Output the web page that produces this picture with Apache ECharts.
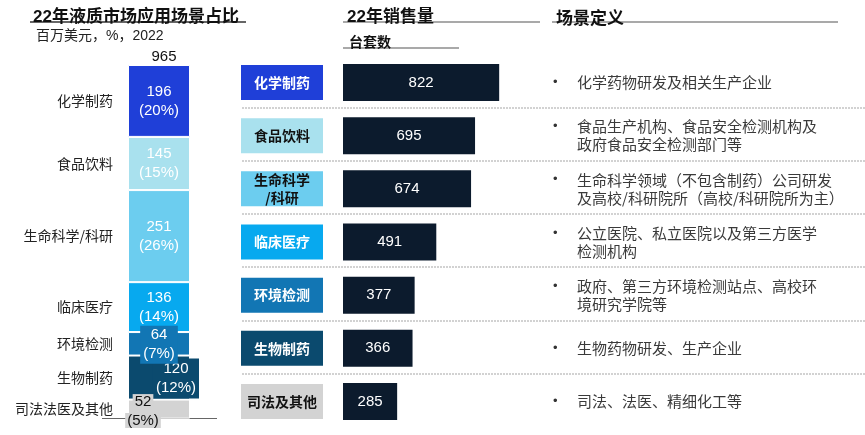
<!DOCTYPE html>
<html><head><meta charset="utf-8">
<script src="https://cdn.jsdelivr.net/npm/echarts@6/dist/echarts.min.js"></script>
<style>html,body{margin:0;padding:0;background:#fff}#c{width:865px;height:435px}</style>
</head><body><div id="c"></div>
<script>
const categories = ['化学制药','食品饮料','生命科学/科研','临床医疗','环境检测','生物制药','司法法医及其他'];
const marketValues = [196,145,251,136,64,120,52];
const marketPct = ['20%','15%','26%','14%','7%','12%','5%'];
const marketTotal = 965;
const boxNames = ['化学制药','食品饮料','生命科学\n/科研','临床医疗','环境检测','生物制药','司法及其他'];
const salesValues = [822,695,674,491,377,366,285];
const definitions = [
  ['化学药物研发及相关生产企业'],
  ['食品生产机构、食品安全检测机构及','政府食品安全检测部门等'],
  ['生命科学领域（不包含制药）公司研发','及高校/科研院所（高校/科研院所为主）'],
  ['公立医院、私立医院以及第三方医学','检测机构'],
  ['政府、第三方环境检测站点、高校环','境研究学院等'],
  ['生物药物研发、生产企业'],
  ['司法、法医、精细化工等']
];

const segColors = ['#1f3fd8','#a9e1ee','#6ccdef','#07a9ef','#1276b4','#0b4a6e','#d3d3d3'];
const boxText = ['#fff','#111','#111','#fff','#fff','#fff','#111'];
const segZ = [2, 2, 2, 2, 20, 10, 15];
const CJK = '"Noto Sans CJK SC"';
const NUM = '"Liberation Sans", Arial, "Noto Sans CJK SC"';

const chart = echarts.init(document.getElementById('c'));

const series = [];
categories.forEach((name, i) => {
  let lbl = {
    show: true, position: 'inside', color: i === 6 ? '#111' : '#fff',
    fontFamily: NUM, fontSize: 15, lineHeight: 19,
    formatter: () => marketValues[i] + '\n(' + marketPct[i] + ')'
  };
  if (i === 4) { lbl.backgroundColor = segColors[4]; lbl.padding = [0, 3]; lbl.offset = [0, 1]; }
  if (i === 5) { lbl.backgroundColor = segColors[5]; lbl.padding = [1, 3]; lbl.offset = [17, 1]; }
  if (i === 6) {
    lbl.formatter = () => '{a|' + marketValues[i] + '}\n{a|(' + marketPct[i] + ')}';
    lbl.rich = { a: { backgroundColor: segColors[6], padding: [0, 2], fontFamily: NUM, fontSize: 15, lineHeight: 19, color: '#111' } };
    lbl.offset = [-16, 2];
  }
  series.push({
    type: 'bar', name: name, stack: 'm', xAxisIndex: 0, yAxisIndex: 0, barWidth: 62,
    data: [marketValues[i]],
    itemStyle: { color: segColors[i], borderColor: '#fff', borderWidth: 1 },
    label: lbl, z: segZ[i]
  });
});
categories.forEach((name, i) => {
  series.push({
    type: 'bar', name: name + '_n', stack: 'n', xAxisIndex: 1, yAxisIndex: 0, barWidth: 62,
    data: [marketValues[i]],
    itemStyle: { color: 'rgba(0,0,0,0)' },
    label: { show: true, position: 'left', distance: 15, color: '#222', fontFamily: CJK, fontSize: 14,
      formatter: () => name },
    silent: true
  });
});
series.push({
  type: 'bar', xAxisIndex: 2, yAxisIndex: 1, barWidth: 37, data: salesValues,
  itemStyle: { color: '#0c1b2d' },
  label: { show: true, position: 'inside', color: '#fff', fontFamily: NUM, fontSize: 15 }
});
series.push({ type: 'scatter', xAxisIndex: 3, yAxisIndex: 2, data: [] });
series.push({
  type: 'bar', xAxisIndex: 4, yAxisIndex: 3, barWidth: 35,
  data: boxNames.map((n, i) => ({
    value: 1,
    itemStyle: { color: segColors[i] },
    label: { color: boxText[i] }
  })),
  label: { show: true, position: 'inside', fontFamily: CJK, fontWeight: 'bold', fontSize: 14, lineHeight: 18,
    formatter: p => boxNames[p.dataIndex] }
});
series.push({ type: 'scatter', xAxisIndex: 5, yAxisIndex: 4, data: [] });

const hidden = { show: false };
const option = {
  animation: false,
  backgroundColor: '#fff',
  title: [
    { text: '22年液质市场应用场景占比', left: 28, top: 4, textStyle: { fontFamily: NUM, fontWeight: 'bold', fontSize: 17, color: '#111' } },
    { text: '百万美元，%，2022', left: 31, top: 24, textStyle: { fontFamily: NUM, fontWeight: 'normal', fontSize: 14, color: '#222' } },
    { text: String(marketTotal), left: 159, textAlign: 'center', top: 44, textStyle: { fontFamily: NUM, fontWeight: 'normal', fontSize: 15, color: '#111' } },
    { text: '22年销售量', left: 342, top: 4, textStyle: { fontFamily: NUM, fontWeight: 'bold', fontSize: 17, color: '#111' } },
    { text: '台套数', left: 344, top: 30, textStyle: { fontFamily: CJK, fontWeight: 'bold', fontSize: 14, color: '#111' } },
    { text: '场景定义', left: 551, top: 4, textStyle: { fontFamily: CJK, fontWeight: 'bold', fontSize: 17, color: '#111' } }
  ],
  grid: [
    { left: 128, top: 65, width: 62, height: 354 },
    { left: 343, top: 56, width: 190, height: 372 },
    { left: 242, top: 54, right: 0, height: 373 },
    { left: 241, top: 56, width: 82, height: 372 },
    { left: 540, top: 56, width: 13, height: 372 }
  ],
  xAxis: [
    { type: 'category', gridIndex: 0, data: ['m'], show: false },
    { type: 'category', gridIndex: 0, data: ['m'], show: false },
    { type: 'value', gridIndex: 1, min: 0, max: 1000, show: false },
    { type: 'value', gridIndex: 2, min: 0, max: 1, show: false },
    { type: 'value', gridIndex: 3, min: 0, max: 1, show: false },
    { type: 'value', gridIndex: 4, min: 0, max: 1, show: false }
  ],
  yAxis: [
    { type: 'value', gridIndex: 0, min: 0, max: marketTotal, inverse: true, show: false },
    { type: 'category', gridIndex: 1, data: categories, inverse: true, show: false },
    { type: 'value', gridIndex: 2, min: 0, max: 7, interval: 1, inverse: true,
      axisLine: hidden, axisTick: hidden, axisLabel: hidden,
      splitLine: { show: true, showMinLine: false, showMaxLine: false,
        lineStyle: { type: [2, 1], color: '#c4c4c4', width: 1.5 } } },
    { type: 'category', gridIndex: 3, data: categories, inverse: true, show: false },
    { type: 'category', gridIndex: 4, data: categories, inverse: true, position: 'right',
      axisLine: hidden, axisTick: hidden, splitLine: hidden,
      axisLabel: {
        margin: 0, align: 'left', interval: 0,
        formatter: (v, idx) => definitions[idx].map((ln, k) => '{s|' + (k === 0 ? '•' : ' ') + '}{t|' + ln + '}').join('\n'),
        rich: {
          s: { width: 24, fontFamily: NUM, fontSize: 13, color: '#333', lineHeight: 18 },
          t: { fontFamily: CJK, fontSize: 15, color: '#3a3a3a', lineHeight: 18 }
        }
      } }
  ],
  graphic: [
    { type: 'line', shape: { x1: 30, y1: 22, x2: 246, y2: 22 }, style: { stroke: '#333', lineWidth: 1.5 } },
    { type: 'line', shape: { x1: 343, y1: 22, x2: 540, y2: 22 }, style: { stroke: '#555', lineWidth: 1.2 } },
    { type: 'line', shape: { x1: 343, y1: 48, x2: 459, y2: 48 }, style: { stroke: '#555', lineWidth: 1.2 } },
    { type: 'line', shape: { x1: 552, y1: 22, x2: 838, y2: 22 }, style: { stroke: '#555', lineWidth: 1.2 } },
    { type: 'line', shape: { x1: 102, y1: 418.5, x2: 217, y2: 418.5 }, style: { stroke: '#666', lineWidth: 1 }, z: 0 }
  ],
  series: series
};
chart.setOption(option);
</script>
</body></html>
